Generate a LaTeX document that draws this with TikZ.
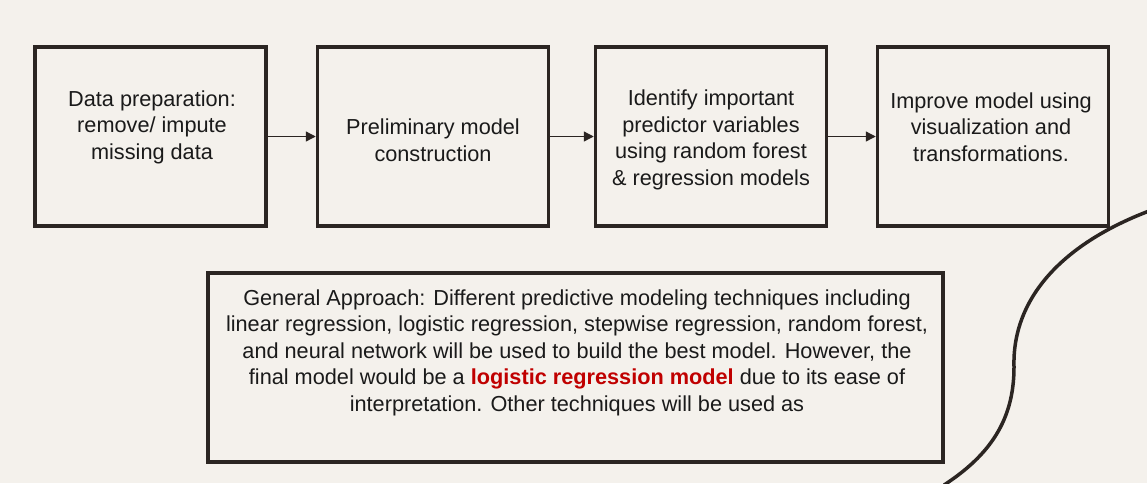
\documentclass[tikz,border=0pt]{standalone}
\usepackage{fontspec}
\setmainfont{Liberation Sans}
\usetikzlibrary{arrows.meta}
\definecolor{bg}{HTML}{F4F1EC}
\definecolor{ink}{HTML}{2B2522}
\definecolor{txt}{HTML}{1A1A1A}
\definecolor{hl}{HTML}{C00000}
\tikzset{
  stepbox/.style={draw=ink, line width=3.5pt, minimum width=231pt, minimum height=179pt, inner sep=0pt},
  lbl/.style={text=txt, align=center, font=\fontsize{21.7}{26.5}\selectfont, inner sep=0pt},
  conn/.style={draw=ink, line width=1.3pt, -{Triangle[length=10pt,width=10pt]}},
}
\begin{document}
\begin{tikzpicture}[x=1pt,y=-1pt]
\fill[bg] (0,0) rectangle (1147,483);
\useasboundingbox (0,0) rectangle (1147,483);
\node[stepbox] (b1) at (150.5,136.5) {};
\node[stepbox] (b2) at (433,136.5) {};
\node[stepbox] (b3) at (711,136.5) {};
\node[stepbox] (b4) at (993,136.5) {};
\node[draw=ink, line width=3.5pt, minimum width=735pt, minimum height=189pt, inner sep=0pt] (gb) at (575.5,367.5) {};
\node[lbl] (t1) at (152,127) {Data preparation:\\remove/ impute\\missing data};
\node[lbl] (t2) at (433,140) {Preliminary model\\construction};
\node[lbl] (t3) at (711,140) {Identify important\\predictor variables\\using random forest\\\& regression models};
\node[lbl] (t4) at (991,127) {Improve model using\\visualization and\\transformations.};
\node[lbl] (tg) at (577,352.5) {General Approach: Different predictive modeling techniques including\\linear regression, logistic regression, stepwise regression, random forest,\\and neural network will be used to build the best model. However, the\\final model would be a \textcolor{hl}{\textbf{logistic regression model}} due to its ease of\\interpretation. Other techniques will be used as};
\draw[conn] (b1.east) -- (b2.west);
\draw[conn] (b2.east) -- (b3.west);
\draw[conn] (b3.east) -- (b4.west);
\draw[ink, line width=3.5pt] (1149,211) .. controls (1060,245) and (1012,300) .. (1014,367) .. controls (1014,420) and (990,455) .. (944,485);
\end{tikzpicture}
\end{document}
